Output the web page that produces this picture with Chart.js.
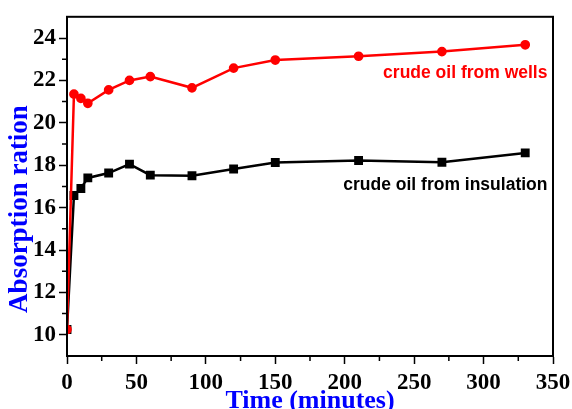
<!DOCTYPE html>
<html>
<head>
<meta charset="utf-8">
<script src="https://cdn.jsdelivr.net/npm/chart.js@4.4.1/dist/chart.umd.min.js"></script>
<style>
  html, body { margin: 0; padding: 0; background: #fff; }
  #wrap { width: 572px; height: 409px; }
</style>
</head>
<body>
<div id="wrap"><canvas id="grafico"></canvas></div>
<script>
// tempo (minutos)
const tempos = [0, 5, 10, 15, 30, 45, 60, 90, 120, 150, 210, 270, 330];
// razão de absorção
const pocos = [10.25, 21.35, 21.15, 20.92, 21.55, 22.0, 22.18, 21.65, 22.58, 22.96, 23.14, 23.36, 23.68];
const isolamento = [10.25, 16.57, 16.9, 17.4, 17.63, 18.05, 17.53, 17.5, 17.82, 18.13, 18.22, 18.14, 18.58];

const nomes = ["crude oil from wells", "crude oil from insulation"];
const tituloX = "Time (minutes)";
const tituloY = "Absorption ration";

const serif = "'Liberation Serif', 'Times New Roman', serif";
const sans = "'Liberation Sans', Arial, sans-serif";

// moldura, ticks menores, títulos dos eixos e rótulos das curvas
const extras = {
  id: "extras",
  afterDraw(chart) {
    const ctx = chart.ctx;
    const a = chart.chartArea;
    const x = chart.scales.x, y = chart.scales.y;
    ctx.save();
    ctx.strokeStyle = "#000";
    ctx.lineWidth = 2;
    ctx.strokeRect(a.left, a.top, a.right - a.left, a.bottom - a.top);

    ctx.lineWidth = 1.5;
    ctx.beginPath();
    for (let v = 25; v < 350; v += 50) {
      const px = x.getPixelForValue(v);
      ctx.moveTo(px, a.bottom);
      ctx.lineTo(px, a.bottom + 5);
    }
    for (let v = 11; v < 25; v += 2) {
      const py = y.getPixelForValue(v);
      ctx.moveTo(a.left, py);
      ctx.lineTo(a.left - 5, py);
    }
    ctx.stroke();

    // títulos
    ctx.fillStyle = "#0000ff";
    ctx.font = "bold 26px " + serif;
    ctx.textAlign = "center";
    ctx.textBaseline = "alphabetic";
    ctx.fillText(tituloX, (a.left + a.right) / 2, 408);
    ctx.save();
    ctx.translate(27, 209);
    ctx.rotate(-Math.PI / 2);
    ctx.font = "bold 27px " + serif;
    ctx.fillText(tituloY, 0, 0);
    ctx.restore();

    // rótulos das séries
    ctx.font = "bold 17.5px " + sans;
    ctx.textAlign = "right";
    ctx.textBaseline = "middle";
    ctx.fillStyle = "#ff0000";
    ctx.fillText(nomes[0], x.getPixelForValue(346), y.getPixelForValue(22.36));
    ctx.fillStyle = "#000";
    ctx.fillText(nomes[1], x.getPixelForValue(346), y.getPixelForValue(17.07));
    ctx.restore();
  }
};

new Chart(document.getElementById("grafico").getContext("2d"), {
  type: "line",
  data: {
    labels: tempos,
    datasets: [
      {
        label: nomes[0],
        data: tempos.map((t, i) => ({ x: t, y: pocos[i] })),
        borderColor: "#ff0000",
        backgroundColor: "#ff0000",
        borderWidth: 2.5,
        pointStyle: "circle",
        pointRadius: 3.6,
        pointHoverRadius: 3.6,
        tension: 0
      },
      {
        label: nomes[1],
        data: tempos.map((t, i) => ({ x: t, y: isolamento[i] })),
        borderColor: "#000",
        backgroundColor: "#000",
        borderWidth: 2.5,
        pointStyle: "rect",
        pointRadius: 4.5,
        pointHoverRadius: 4.5,
        tension: 0
      }
    ]
  },
  options: {
    responsive: true,
    maintainAspectRatio: false,
    animation: false,
    layout: { padding: { left: 0, top: 16, right: 19, bottom: 0 } },
    plugins: {
      legend: { display: false },
      tooltip: { enabled: false }
    },
    scales: {
      x: {
        type: "linear",
        min: 0,
        max: 350,
        afterFit(s) { s.height = 53; s.paddingRight = 0; },
        ticks: {
          stepSize: 50,
          color: "#000",
          padding: 5,
          maxRotation: 0,
          font: { family: serif, size: 23, weight: "bold" }
        },
        grid: { drawOnChartArea: false, tickLength: 8, color: "#000", tickWidth: 1.5 },
        border: { display: true, color: "#000", width: 2 }
      },
      y: {
        min: 9,
        max: 25,
        afterFit(s) { s.width = 67; },
        afterBuildTicks(s) { s.ticks = s.ticks.filter(t => t.value % 2 === 0); },
        ticks: {
          stepSize: 1,
          color: "#000",
          padding: 3,
          font: { family: serif, size: 23, weight: "bold" }
        },
        grid: { drawOnChartArea: false, tickLength: 8, color: "#000", tickWidth: 1.5 },
        border: { display: true, color: "#000", width: 2 }
      }
    }
  },
  plugins: [extras]
});
</script>
</body>
</html>
